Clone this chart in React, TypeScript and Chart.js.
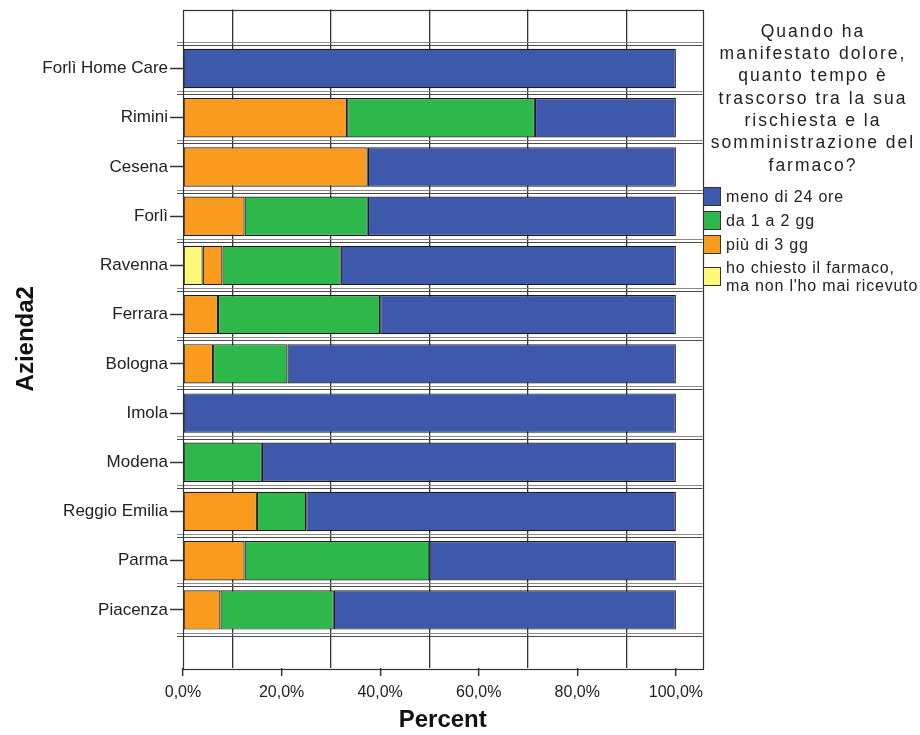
import React, { useEffect, useRef } from "react";
import { Chart, registerables } from "chart.js";

Chart.register(...registerables);

const categories = [
  "Forlì Home Care",
  "Rimini",
  "Cesena",
  "Forlì",
  "Ravenna",
  "Ferrara",
  "Bologna",
  "Imola",
  "Modena",
  "Reggio Emilia",
  "Parma",
  "Piacenza",
];

const seriesNames = [
  "meno di 24 ore",
  "da 1 a 2 gg",
  "più di 3 gg",
  "ho chiesto il farmaco, ma non l'ho mai ricevuto",
];

const menoDi24Ore = [100, 28.6, 62.5, 62.5, 68, 60, 78.8, 100, 84, 75, 50, 69.4];
const da1a2gg = [0, 38.1, 0, 25, 24, 32.9, 15.1, 0, 16, 10, 37.5, 23];
const piuDi3gg = [0, 33.3, 37.5, 12.5, 4, 7.1, 6.1, 0, 0, 15, 12.5, 7.6];
const maiRicevuto = [0, 0, 0, 0, 4, 0, 0, 0, 0, 0, 0, 0];

const xTickValues = [0, 20, 40, 60, 80, 100];
const xGridValues = [10, 30, 50, 70, 90];

const legendTitleLines = [
  "Quando ha",
  "manifestato dolore,",
  "quanto tempo è",
  "trascorso tra la sua",
  "rischiesta e la",
  "somministrazione del",
  "farmaco?",
];

const colors = {
  blue: "#3E58AC",
  green: "#2EB84B",
  orange: "#F99B1F",
  yellow: "#FDF878",
};

const FONT = "'Liberation Sans', Arial, sans-serif";

function toPoints(arr: number[]) {
  return arr.map((v, i) => ({ x: v === 0 ? null : v, y: i + 1 }));
}

const overlayPlugin = {
  id: "spssOverlay",
  beforeDatasetsDraw(chart: any) {
    const { ctx, chartArea, scales } = chart;
    const y = scales.y;
    ctx.save();
    for (let k = 0; k <= categories.length; k++) {
      const py = y.getPixelForValue(k + 0.5);
      ctx.lineWidth = 1.2;
      ctx.strokeStyle = "#8a8a8a";
      ctx.beginPath();
      ctx.moveTo(177, Math.round(py - 2) + 0.5);
      ctx.lineTo(chartArea.right, Math.round(py - 2) + 0.5);
      ctx.stroke();
      ctx.strokeStyle = "#4a4a4a";
      ctx.beginPath();
      ctx.moveTo(177, Math.round(py + 1) + 0.5);
      ctx.lineTo(chartArea.right, Math.round(py + 1) + 0.5);
      ctx.stroke();
    }
    ctx.restore();
  },
  afterDraw(chart: any) {
    const { ctx, chartArea } = chart;
    ctx.save();
    // plot border
    ctx.strokeStyle = "#333";
    ctx.lineWidth = 1.2;
    ctx.strokeRect(
      Math.round(chartArea.left) + 0.5,
      Math.round(chartArea.top) + 0.5,
      Math.round(chartArea.right - chartArea.left),
      Math.round(chartArea.bottom - chartArea.top)
    );
    // legend title
    ctx.fillStyle = "#222";
    ctx.font = `17.5px ${FONT}`;
    ctx.textAlign = "center";
    ctx.textBaseline = "alphabetic";
    (ctx as any).letterSpacing = "2px";
    legendTitleLines.forEach((line, i) => {
      ctx.fillText(line, 813, 36.7 + i * 22.33);
    });
    // legend items
    (ctx as any).letterSpacing = "0.8px";
    ctx.font = `16px ${FONT}`;
    ctx.textAlign = "left";
    ctx.textBaseline = "middle";
    const items = [
      { color: colors.blue, top: 187, lines: [seriesNames[0]] },
      { color: colors.green, top: 211, lines: [seriesNames[1]] },
      { color: colors.orange, top: 235, lines: [seriesNames[2]] },
      {
        color: colors.yellow,
        top: 267,
        lines: ["ho chiesto il farmaco,", "ma non l'ho mai ricevuto"],
      },
    ];
    items.forEach((it) => {
      ctx.fillStyle = it.color;
      ctx.fillRect(703, it.top, 18, 19);
      ctx.strokeStyle = "#333";
      ctx.lineWidth = 1;
      ctx.strokeRect(703.5, it.top + 0.5, 17, 18);
      ctx.fillStyle = "#222";
      const cy = it.top + 9.5;
      if (it.lines.length === 1) {
        ctx.fillText(it.lines[0], 726, cy + 1);
      } else {
        ctx.fillText(it.lines[0], 726, cy - 7.5);
        ctx.fillText(it.lines[1], 726, cy + 10);
      }
    });
    ctx.restore();
  },
};

export default function App() {
  const canvasRef = useRef<HTMLCanvasElement | null>(null);

  useEffect(() => {
    if (!canvasRef.current) return;
    const barCommon = {
      borderColor: "#1c1c1c",
      borderWidth: 1.2,
      borderSkipped: false as const,
      barPercentage: 0.8,
      categoryPercentage: 1,
      stack: "s",
    };
    const chart = new Chart(canvasRef.current, {
      type: "bar",
      data: {
        datasets: [
          { ...barCommon, label: seriesNames[3], data: toPoints(maiRicevuto), backgroundColor: colors.yellow },
          { ...barCommon, label: seriesNames[2], data: toPoints(piuDi3gg), backgroundColor: colors.orange },
          { ...barCommon, label: seriesNames[1], data: toPoints(da1a2gg), backgroundColor: colors.green },
          { ...barCommon, label: seriesNames[0], data: toPoints(menoDi24Ore), backgroundColor: colors.blue },
        ] as any,
      },
      options: {
        indexAxis: "y",
        responsive: false,
        animation: false,
        devicePixelRatio: 1,
        layout: { padding: { top: 9.5, right: 217.5, left: 0, bottom: 0 } },
        plugins: {
          legend: { display: false },
          tooltip: { enabled: false },
        },
        scales: {
          x: {
            type: "linear",
            stacked: true,
            min: 0,
            max: 105.4,
            afterBuildTicks: (axis: any) => {
              axis.ticks = [...xTickValues, ...xGridValues]
                .sort((a, b) => a - b)
                .map((v) => ({ value: v }));
            },
            afterFit: (scale: any) => {
              scale.height = 67;
              scale.paddingLeft = 0;
              scale.paddingRight = 0;
            },
            border: { display: false },
            grid: {
              drawTicks: true,
              tickLength: 8,
              lineWidth: 1.3,
              color: (c: any) =>
                xGridValues.includes(c.tick?.value) ? "#333" : "rgba(0,0,0,0)",
              tickColor: (c: any) =>
                xTickValues.includes(c.tick?.value) ? "#333" : "rgba(0,0,0,0)",
              tickWidth: 1.5,
            },
            ticks: {
              autoSkip: false,
              maxRotation: 0,
              padding: 7,
              color: "#222",
              font: { family: FONT, size: 16 },
              callback: (v: any) =>
                xTickValues.includes(Number(v))
                  ? Number(v).toFixed(1).replace(".", ",") + "%"
                  : "",
            },
            title: {
              display: true,
              text: "Percent",
              color: "#111",
              font: { family: FONT, size: 24, weight: "bold" },
              padding: { top: 0, bottom: 0 },
            },
          },
          y: {
            type: "linear",
            reverse: true,
            offset: false,
            min: -0.2,
            max: 13.18,
            afterBuildTicks: (axis: any) => {
              axis.ticks = categories.map((_, i) => ({ value: i + 1 }));
            },
            afterFit: (scale: any) => {
              scale.width = 183;
              scale.paddingTop = 0;
              scale.paddingBottom = 0;
            },
            border: { display: false },
            grid: {
              offset: false,
              drawOnChartArea: false,
              drawTicks: true,
              tickLength: 13,
              tickColor: "#333",
              tickWidth: 1.5,
            },
            ticks: {
              autoSkip: false,
              padding: 2,
              color: "#222",
              font: { family: FONT, size: 17 },
              callback: (v: any) => categories[Number(v) - 1] ?? "",
            },
            title: {
              display: true,
              text: "Azienda2",
              color: "#111",
              font: { family: FONT, size: 24, weight: "bold" },
              padding: { top: 12, bottom: 0 },
            },
          },
        },
      } as any,
      plugins: [overlayPlugin],
    });
    return () => chart.destroy();
  }, []);

  return (
    <div style={{ position: "absolute", left: 0, top: 0, width: 920, height: 735, background: "#fff" }}>
      <canvas ref={canvasRef} width={920} height={735} style={{ display: "block" }} />
    </div>
  );
}
